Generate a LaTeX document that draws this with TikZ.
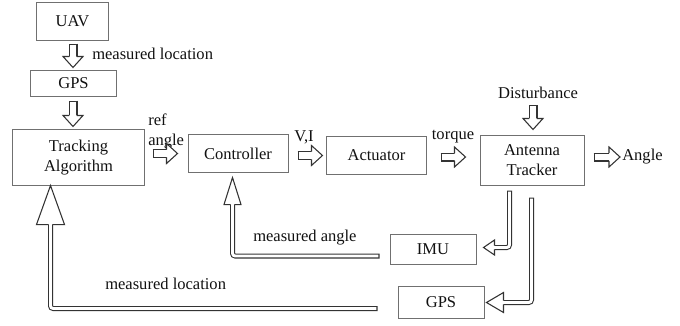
\documentclass[tikz,border=0pt]{standalone}
\usepackage{fontspec}
\setmainfont{Liberation Serif}
\usepackage{tikz}
\usetikzlibrary{calc}
\definecolor{ink}{HTML}{111111}
\definecolor{boxgray}{HTML}{707070}
\definecolor{arrowgray}{HTML}{333333}
\tikzset{
  box/.style={draw=boxgray, line width=0.75pt, inner sep=0pt, align=center, text=ink, font=\fontsize{12.4}{15}\selectfont},
  lbl/.style={text=ink, inner sep=0pt, font=\fontsize{12.4}{15}\selectfont},
  fat/.style={draw=arrowgray, line width=6.75pt, postaction={draw=white, line width=5.15pt, shorten <=0.8pt}},
  fbk/.style={draw=arrowgray, line width=3.75pt, rounded corners=2pt, postaction={draw=white, line width=2.15pt, shorten <=0.8pt}},
  pics/head/.style n args={3}{code={
    \fill[white] (0,0) -- (-#1,#2) -- (-#1,-#2) -- cycle;
    \draw[draw=arrowgray, line width=0.8pt, line join=miter] (-#1,#3) -- (-#1,#2) -- (0,0) -- (-#1,-#2) -- (-#1,-#3);
  }}
}

\begin{document}
\begin{tikzpicture}[x=0.75pt, y=-0.75pt]
  \useasboundingbox (0,0) rectangle (680,325);

  % blocks
  \node[box, minimum width=53.3pt, minimum height=27.8pt] (uav) at (72.5,21.5) {UAV};
  \node[box, minimum width=63.8pt, minimum height=19.5pt] (gps) at (73.5,83.5) {GPS};
  \node[box, minimum width=98.3pt, minimum height=41.3pt] (track) at (78.5,157.5) {Tracking\\Algorithm};
  \node[box, minimum width=75pt, minimum height=27.8pt] (ctrl) at (238,153.5) {Controller};
  \node[box, minimum width=74.3pt, minimum height=27.8pt] (act) at (376.5,155.5) {Actuator};
  \node[box, minimum width=78pt, minimum height=36.8pt] (ant) at (532,160.5) {Antenna\\Tracker};
  \node[box, minimum width=64.5pt, minimum height=22.5pt] (imu) at (433,249) {IMU};
  \node[box, minimum width=64.5pt, minimum height=23.3pt] (gpsb) at (441,302.5) {GPS};

  % labels
  \node[lbl, anchor=west] (loctop) at (92,54) {measured location};
  \node[lbl, anchor=west, align=left] (ref) at (148,131) {ref\\angle};
  \node[lbl] (vi) at (304,137) {V,I};
  \node[lbl] (torque) at (453,137) {torque};
  \node[lbl] (dist) at (538,93) {Disturbance};
  \node[lbl, anchor=west] (out) at (622,157) {Angle};
  \node[lbl, anchor=west] (angmeas) at (253,238) {measured angle};
  \node[lbl, anchor=west] (locbot) at (105,284) {measured location};

  % forward path
  \draw[fat, shorten >=7.5pt] ($(uav.south)+(0.5,3)$) coordinate (s1) -- ($(s1 |- gps.north)+(0,-2.5)$) coordinate (e1);
  \pic[rotate=-90] at (e1) {head={11}{10}{3.97}};
  \draw[fat, shorten >=7.5pt] ($(gps.south)+(-0.5,3.5)$) coordinate (s2) -- ($(s2 |- track.north)+(0,-3)$) coordinate (e2);
  \pic[rotate=-90] at (e2) {head={11}{10}{3.97}};
  \draw[fat, shorten >=7.5pt] ($(track.east |- ctrl.west)+(8,0)$) -- ($(ctrl.west)+(-10,0)$) coordinate (e3);
  \pic at (e3) {head={11}{10}{3.97}};
  \draw[fat, shorten >=7.5pt] ($(ctrl.east |- act.west)+(9,0)$) -- ($(act.west)+(-4,0)$) coordinate (e4);
  \pic at (e4) {head={11}{10}{3.97}};
  \draw[fat, shorten >=7.5pt] ($(act.east)+(14,1.5)$) coordinate (s5) -- ($(s5 -| ant.west)+(-14,0)$) coordinate (e5);
  \pic at (e5) {head={11}{10}{3.97}};
  \draw[fat, shorten >=7.5pt] ($(dist.south -| ant.north)+(1,6)$) coordinate (s6) -- ($(s6 |- ant.north)+(0,-6)$) coordinate (e6);
  \pic[rotate=-90] at (e6) {head={11}{10}{3.97}};
  \draw[fat, shorten >=7.5pt] ($(ant.east)+(9,-3.5)$) coordinate (s7) -- ($(s7 -| out.west)+(-2,0)$) coordinate (e7);
  \pic at (e7) {head={11}{10}{3.97}};

  % feedback paths
  \draw[fbk, shorten >=7.5pt] ($(ant.south)+(-22.5,5)$) |- ($(imu.east)+(7,-1.5)$) coordinate (f1);
  \pic[rotate=180] at (f1) {head={11}{7.5}{1.97}};
  \draw[fbk, shorten >=12pt] ($(ant.south)+(-0.5,12)$) |- ($(gpsb.east)+(2,0)$) coordinate (f2);
  \pic[rotate=180] at (f2) {head={17}{10}{1.97}};
  \draw[fbk, shorten >=19.5pt] ($(imu.west)+(-10,7)$) -| ($(ctrl.south)+(-5.5,5)$) coordinate (f3);
  \pic[rotate=90] at (f3) {head={27}{8.5}{1.97}};
  \draw[fbk, shorten >=28.5pt] ($(gpsb.west)+(-20,6)$) -| ($(track.south)+(-28,0)$) coordinate (f4);
  \pic[rotate=90] at (f4) {head={39}{14}{1.97}};
\end{tikzpicture}
\end{document}
